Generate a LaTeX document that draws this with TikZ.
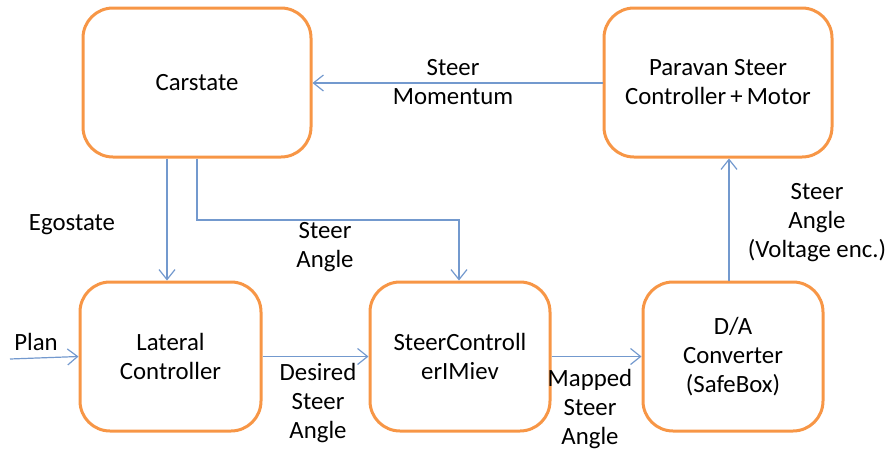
\documentclass[tikz,border=0pt]{standalone}
\usepackage{fontspec}
\setmainfont{Carlito}
\usetikzlibrary{arrows.meta,calc}
\definecolor{boxorange}{HTML}{F79646}
\definecolor{linkblue}{HTML}{7399CE}
\begin{document}
\begin{tikzpicture}[x=0.5pt,y=-0.5pt,
  font=\fontsize{12.4pt}{14.5pt}\selectfont,
  block/.style={draw=boxorange,line width=1.5pt,rounded corners=15pt,
    minimum height=74.5pt,align=center,inner sep=2pt},
  link/.style={draw=linkblue,line width=0.6pt,-{Straight Barb[length=5pt,width=8pt,line width=0.6pt]}},
  lbl/.style={align=center,inner sep=0pt}]
\useasboundingbox (0,0) rectangle (891,450);
\node[block,minimum width=114pt] (car) at (197,82.5) {Carstate};
\node[block,minimum width=114pt] (par) at (718,82.5) {Paravan Steer\\Controller\,+\,Motor};
\node[block,minimum width=90.5pt] (lat) at (170.5,356.5) {Lateral\\Controller};
\node[block,minimum width=90pt] (sc) at (460,356.5) {SteerControll\\erIMiev};
\node[block,minimum width=90pt] (da) at (733,356.5) {D/A\\Converter\\(SafeBox)};
\coordinate (planstart) at (10,359);
\coordinate (bend) at (0,220);
\draw[link] (par.west |- 0,83) -- (car.east |- 0,83);
\draw[link] ([xshift=-15pt]car.south) -- ([xshift=-15pt]car.south |- lat.north);
\draw[link] (car.south) -- (car.south |- bend) -| ([xshift=-0.5pt]sc.north);
\draw[link] (planstart) -- (lat.west);
\draw[link] (lat.east) -- (sc.west);
\draw[link] (sc.east) -- (da.west);
\draw[link] ([xshift=-2pt]da.north) -- ([xshift=-2pt]da.north |- par.south);
\node[lbl] (lmom) at (453,82) {Steer\\Momentum};
\node[lbl] (lego) at (72,225) {Egostate};
\node[lbl] (lsa) at (325,247) {Steer\\Angle};
\node[lbl] (lplan) at (36,342) {Plan};
\node[lbl] (ldes) at (318,403) {Desired\\Steer\\Angle};
\node[lbl] (lmap) at (590,409) {Mapped\\Steer\\Angle};
\node[lbl] (lvol) at (817,223) {Steer\\Angle\\(Voltage enc.)};
\end{tikzpicture}
\end{document}
